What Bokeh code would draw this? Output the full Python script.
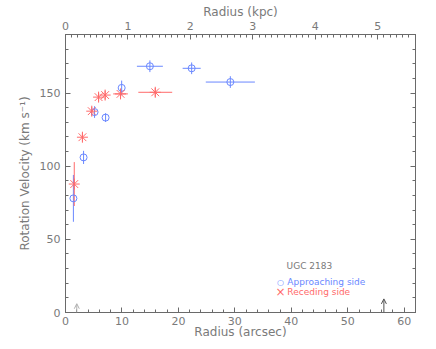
import numpy as np
from bokeh.plotting import figure
from bokeh.models import (Range1d, LinearAxis, SingleIntervalTicker, Label, Arrow,
                          OpenHead, CustomJSTickFormatter)
from bokeh.embed import file_html
from bokeh.resources import INLINE

# ---------------- data ----------------
ARCSEC_PER_KPC = 11.06

app_r = [1.4, 3.2, 5.15, 7.1, 9.95, 14.95, 22.35, 29.2]
app_v = [78.0, 106.0, 137.0, 133.2, 153.5, 168.3, 166.9, 157.5]
app_rerr = [0.0, 0.0, 0.0, 0.0, 0.0, 2.3, 1.6, 4.35]
app_verr = [16.0, 4.5, 4.0, 3.0, 5.0, 4.0, 4.0, 4.0]

rec_r = [1.55, 3.0, 4.65, 5.86, 7.02, 9.75, 15.9]
rec_v = [87.8, 119.8, 137.6, 147.2, 148.6, 149.4, 150.5]
rec_rerr = [0.0, 0.0, 0.0, 0.0, 0.0, 1.3, 3.0]
rec_verr = [15.0, 3.0, 3.0, 3.0, 3.0, 3.0, 3.0]

arrow_r = [2.0, 56.4]
arrow_len = [6.0, 9.3]
arrow_colors = ["#b0b0b0", "#505050"]

x_range = (0, 62)
y_range = (0, 190)

galaxy = "UGC 2183"
label_app = "Approaching side"
label_rec = "Receding side"

BLUE = "#6a88ff"
RED = "#ff6a6a"
GRAY = "#7a7a7a"
AXC = "#6a6a6a"
FONT = "DejaVu Sans"

# ---------------- figure ----------------
p = figure(width=428, height=341, output_backend="svg", toolbar_location=None,
           x_range=Range1d(*x_range), y_range=Range1d(*y_range),
           x_axis_location=None, y_axis_location=None,
           min_border_left=65, min_border_right=13, min_border_top=34, min_border_bottom=28)
p.grid.visible = False
p.outline_line_color = AXC
p.background_fill_color = "white"
p.border_fill_color = "white"

p.extra_x_ranges = {"kpc": Range1d(x_range[0] / ARCSEC_PER_KPC, x_range[1] / ARCSEC_PER_KPC)}


def style(ax):
    ax.axis_line_color = AXC
    ax.major_tick_line_color = AXC
    ax.minor_tick_line_color = AXC
    ax.major_tick_in = 5
    ax.major_tick_out = 0
    ax.minor_tick_in = 3
    ax.minor_tick_out = 0
    ax.major_label_text_font = FONT
    ax.major_label_text_font_size = "11px"
    ax.major_label_text_color = GRAY
    ax.axis_label_text_font = FONT
    ax.axis_label_text_font_size = "12px"
    ax.axis_label_text_font_style = "normal"
    ax.axis_label_text_color = GRAY
    ax.major_label_standoff = 5
    ax.axis_label_standoff = 0


bottom = LinearAxis(ticker=SingleIntervalTicker(interval=10, num_minor_ticks=5),
                    axis_label="Radius (arcsec)")
style(bottom)
bottom.major_label_standoff = 4
bottom.axis_label_standoff = -3
p.add_layout(bottom, "below")

top = LinearAxis(x_range_name="kpc", ticker=SingleIntervalTicker(interval=1, num_minor_ticks=10),
                 axis_label="Radius (kpc)")
style(top)
p.add_layout(top, "above")

left = LinearAxis(ticker=SingleIntervalTicker(interval=50, num_minor_ticks=5),
                  axis_label="Rotation Velocity (km s\u207b\u00b9)")
style(left)
left.axis_label_standoff = 5
p.add_layout(left, "left")

right = LinearAxis(ticker=SingleIntervalTicker(interval=50, num_minor_ticks=5),
                   formatter=CustomJSTickFormatter(code="return ''"))
style(right)
right.major_label_standoff = 0
p.add_layout(right, "right")

# ---------------- error bars ----------------
ar, av = np.array(app_r), np.array(app_v)
are, ave = np.array(app_rerr), np.array(app_verr)
rr, rv = np.array(rec_r), np.array(rec_v)
rre, rve = np.array(rec_rerr), np.array(rec_verr)

p.segment(x0=ar, y0=av - ave, x1=ar, y1=av + ave, line_color=BLUE, line_width=1)
p.segment(x0=ar - are, y0=av, x1=ar + are, y1=av, line_color=BLUE, line_width=1)
p.segment(x0=rr, y0=rv - rve, x1=rr, y1=rv + rve, line_color=RED, line_width=1)
p.segment(x0=rr - rre, y0=rv, x1=rr + rre, y1=rv, line_color=RED, line_width=1)

p.scatter(x=ar, y=av, marker="circle", size=7, fill_color=None, line_color=BLUE, line_width=1)
p.scatter(x=rr, y=rv, marker="asterisk", size=11, line_color=RED, line_width=1)

# ---------------- arrows ----------------
for r, L, c in zip(arrow_r, arrow_len, arrow_colors):
    p.add_layout(Arrow(end=OpenHead(size=5, line_color=c, line_width=1),
                       x_start=r, y_start=y_range[0], x_end=r, y_end=y_range[0] + L,
                       line_color=c, line_width=1))

# ---------------- legend ----------------
p.add_layout(Label(x=43.2, y=31.6, text=galaxy, text_font=FONT, text_font_size="9px",
                   text_color=GRAY, text_align="center", text_baseline="middle"))
p.add_layout(Label(x=38.1, y=20.7, text="\u25cb", text_font=FONT, text_font_size="8px",
                   text_color=BLUE, text_align="center", text_baseline="middle"))
p.add_layout(Label(x=39.3, y=20.7, text=label_app, text_font=FONT, text_font_size="9px",
                   text_color=BLUE, text_align="left", text_baseline="middle"))
p.add_layout(Label(x=38.1, y=13.8, text="\u00d7", text_font=FONT, text_font_size="12px",
                   text_color=RED, text_align="center", text_baseline="middle"))
p.add_layout(Label(x=39.3, y=13.8, text=label_rec, text_font=FONT, text_font_size="9px",
                   text_color=RED, text_align="left", text_baseline="middle"))

open("out.html", "w").write(file_html(p, INLINE))
